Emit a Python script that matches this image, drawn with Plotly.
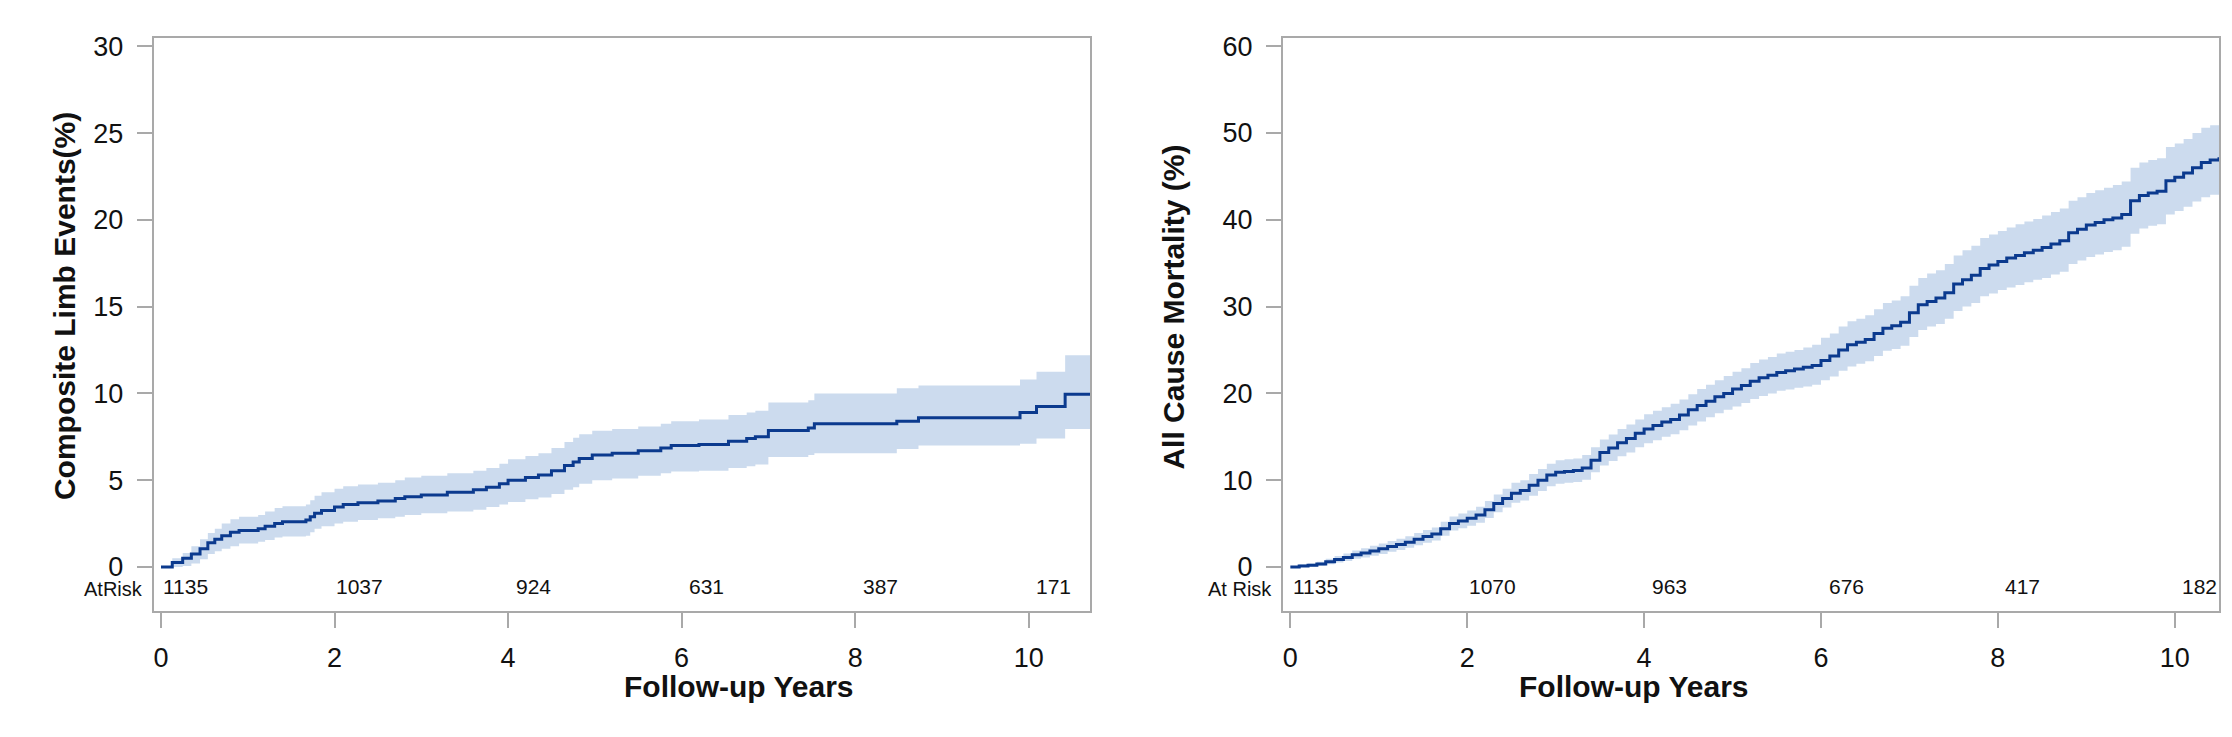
import plotly.graph_objects as go

W, H = 2232, 737

# ---------------- Data: Composite limb events (left panel) ----------------
limb_t = [0.0, 0.13, 0.25, 0.35, 0.45, 0.54, 0.62, 0.70, 0.80, 0.90, 1.12, 1.20, 1.31, 1.40,
          1.67, 1.72, 1.77, 1.85, 2.0, 2.1, 2.27, 2.5, 2.7, 2.81, 3.0, 3.3, 3.6, 3.75, 3.9,
          4.0, 4.2, 4.35, 4.5, 4.65, 4.75, 4.82, 4.97, 5.2, 5.5, 5.76, 5.88, 6.2, 6.54, 6.75,
          6.85, 7.0, 7.46, 7.53, 8.48, 8.73, 9.9, 10.09, 10.42, 10.71]
limb_est = [0.0, 0.25, 0.5, 0.75, 1.05, 1.4, 1.6, 1.8, 2.0, 2.1, 2.2, 2.35, 2.5, 2.6,
            2.7, 2.9, 3.1, 3.25, 3.45, 3.6, 3.7, 3.8, 3.95, 4.05, 4.15, 4.3, 4.45, 4.6, 4.8,
            5.0, 5.15, 5.3, 5.55, 5.85, 6.05, 6.25, 6.45, 6.55, 6.7, 6.85, 7.0, 7.05, 7.25, 7.4,
            7.5, 7.86, 8.0, 8.25, 8.4, 8.6, 8.9, 9.25, 9.95, 9.95]
limb_lo = [0.0, 0.0, 0.05, 0.2, 0.45, 0.75, 0.9, 1.05, 1.2, 1.35, 1.45, 1.55, 1.7, 1.75,
           1.8, 2.0, 2.2, 2.35, 2.5, 2.6, 2.7, 2.8, 2.9, 3.0, 3.1, 3.2, 3.3, 3.45, 3.6,
           3.75, 3.9, 4.0, 4.2, 4.45, 4.6, 4.8, 5.0, 5.1, 5.25, 5.4, 5.5, 5.55, 5.7, 5.8,
           5.9, 6.33, 6.45, 6.55, 6.8, 7.0, 7.1, 7.4, 7.95, 7.95]
limb_hi = [0.0, 0.5, 0.8, 1.2, 1.6, 1.95, 2.2, 2.5, 2.75, 2.9, 3.0, 3.2, 3.4, 3.5,
           3.6, 3.85, 4.1, 4.3, 4.5, 4.65, 4.75, 4.85, 5.0, 5.15, 5.25, 5.4, 5.55, 5.7, 5.95,
           6.2, 6.4, 6.55, 6.85, 7.2, 7.45, 7.65, 7.85, 7.95, 8.1, 8.25, 8.4, 8.5, 8.75, 8.9,
           9.0, 9.47, 9.6, 10.0, 10.3, 10.45, 10.8, 11.25, 12.2, 12.2]
limb_risk_t = [0, 2, 4, 6, 8, 10]
limb_risk_n = ["1135", "1037", "924", "631", "387", "171"]

# ---------------- Data: All cause mortality (right panel) ----------------
mort_t = [round(0.1 * i, 1) for i in range(106)]
mort_est = [0.0, 0.1, 0.2, 0.35, 0.6, 0.85, 1.1, 1.4, 1.6, 1.85,
            2.1, 2.35, 2.6, 2.85, 3.2, 3.5, 3.8, 4.4, 5.0, 5.3,
            5.6, 6.0, 6.6, 7.3, 7.9, 8.5, 8.8, 9.4, 10.0, 10.6,
            10.9, 11.0, 11.1, 11.4, 12.3, 13.2, 13.7, 14.3, 14.8, 15.4,
            15.9, 16.3, 16.7, 17.0, 17.5, 18.1, 18.6, 19.1, 19.6, 20.0,
            20.5, 20.9, 21.4, 21.8, 22.1, 22.4, 22.6, 22.8, 23.0, 23.2,
            23.8, 24.3, 25.0, 25.6, 25.9, 26.2, 26.9, 27.5, 27.8, 28.2,
            29.3, 30.2, 30.6, 31.0, 31.6, 32.6, 33.1, 33.6, 34.4, 34.8,
            35.2, 35.6, 35.9, 36.2, 36.5, 36.8, 37.2, 37.6, 38.5, 38.9,
            39.4, 39.7, 40.0, 40.2, 40.6, 42.2, 42.8, 43.1, 43.3, 44.5,
            44.9, 45.4, 46.0, 46.6, 46.9, 47.2]
mort_hi = [0.0, 0.3, 0.4, 0.6, 0.95, 1.25, 1.55, 1.9, 2.15, 2.45,
           2.7, 3.0, 3.25, 3.55, 3.9, 4.25, 4.55, 5.2, 5.8, 6.15,
           6.5, 6.95, 7.6, 8.35, 9.0, 9.7, 10.0, 10.7, 11.3, 11.9,
           12.3, 12.4, 12.5, 12.9, 13.8, 14.7, 15.25, 15.9, 16.4, 17.0,
           17.6, 18.0, 18.4, 18.8, 19.3, 19.9, 20.5, 21.0, 21.5, 22.0,
           22.5, 22.9, 23.5, 23.9, 24.2, 24.6, 24.8, 25.0, 25.3, 25.6,
           26.4, 26.9, 27.7, 28.3, 28.6, 29.0, 29.7, 30.4, 30.7, 31.2,
           32.4, 33.3, 33.8, 34.2, 34.9, 35.9, 36.5, 37.0, 37.9, 38.3,
           38.7, 39.1, 39.5, 39.8, 40.1, 40.5, 40.9, 41.3, 42.2, 42.6,
           43.1, 43.4, 43.7, 44.0, 44.4, 46.0, 46.6, 46.9, 47.1, 48.4,
           48.8, 49.3, 50.0, 50.6, 50.9, 51.2]
mort_lo = [0.0, 0.0, 0.05, 0.15, 0.3, 0.5, 0.7, 0.95, 1.1, 1.3,
           1.5, 1.75, 1.95, 2.2, 2.5, 2.8, 3.05, 3.6, 4.2, 4.45,
           4.75, 5.1, 5.65, 6.3, 6.85, 7.4, 7.65, 8.2, 8.75, 9.3,
           9.6, 9.7, 9.8, 10.05, 10.9, 11.7, 12.2, 12.75, 13.2, 13.8,
           14.25, 14.6, 15.0, 15.3, 15.75, 16.3, 16.75, 17.25, 17.7, 18.1,
           18.5, 18.9, 19.35, 19.7, 20.0, 20.3, 20.45, 20.65, 20.8, 21.0,
           21.5, 21.95, 22.6, 23.1, 23.4, 23.7, 24.3, 24.9, 25.1, 25.5,
           26.5, 27.3, 27.7, 28.0, 28.6, 29.5, 30.0, 30.4, 31.2, 31.5,
           31.9, 32.2, 32.5, 32.8, 33.1, 33.3, 33.7, 34.0, 34.9, 35.3,
           35.7, 36.0, 36.3, 36.5, 36.9, 38.4, 39.0, 39.3, 39.5, 40.6,
           41.0, 41.5, 42.1, 42.6, 42.9, 43.2]
mort_risk_t = [0, 2, 4, 6, 8, 10]
mort_risk_n = ["1135", "1070", "963", "676", "417", "182"]

x_ticks = [0, 2, 4, 6, 8, 10]
limb_yticks = [0, 5, 10, 15, 20, 25, 30]
mort_yticks = [0, 10, 20, 30, 40, 50, 60]

# ---------------- Style ----------------
LINE = "#0b3a8e"
BAND = "#ccdbee"
FRAME = "#a9a9a9"
TXT = "#111111"
FONT = "Liberation Sans, Arial, sans-serif"


def px(xp):
    return xp / W


def py(yp):
    return 1 - yp / H


fig = go.Figure()


def add_panel(t, est, lo, hi, xa, ya):
    fig.add_trace(go.Scatter(x=t, y=lo, mode="lines", line=dict(width=0, shape="hv"),
                             hoverinfo="skip", showlegend=False, xaxis=xa, yaxis=ya))
    fig.add_trace(go.Scatter(x=t, y=hi, mode="lines", line=dict(width=0, shape="hv"),
                             fill="tonexty", fillcolor=BAND, hoverinfo="skip",
                             showlegend=False, xaxis=xa, yaxis=ya))
    fig.add_trace(go.Scatter(x=t, y=est, mode="lines", line=dict(color=LINE, width=3, shape="hv"),
                             showlegend=False, xaxis=xa, yaxis=ya))


add_panel(limb_t, limb_est, limb_lo, limb_hi, "x", "y")
add_panel(mort_t, mort_est, mort_lo, mort_hi, "x2", "y2")

axis_common = dict(showline=True, linecolor=FRAME, linewidth=2, mirror=True,
                   ticks="outside", ticklen=15, tickwidth=2, tickcolor=FRAME,
                   showgrid=False, zeroline=False,
                   tickfont=dict(family=FONT, size=27, color=TXT))

ydom = [py(602.3), py(24)]

fig.update_layout(
    width=W, height=H, margin=dict(l=0, r=0, t=0, b=0),
    paper_bgcolor="white", plot_bgcolor="white", showlegend=False,
    xaxis=dict(domain=[px(145.7), px(1082.3)], range=[-0.084, 10.71], anchor="y",
               tickvals=x_ticks, ticklabelstandoff=6, **axis_common),
    yaxis=dict(domain=ydom, range=[-2.56, 30.49], anchor="x",
               tickvals=limb_yticks, ticklabelstandoff=8, **axis_common),
    xaxis2=dict(domain=[px(1275), px(2211)], range=[-0.083, 10.50], anchor="y2",
                tickvals=x_ticks, ticklabelstandoff=6, **axis_common),
    yaxis2=dict(domain=ydom, range=[-5.12, 60.97], anchor="x2",
                tickvals=mort_yticks, ticklabelstandoff=8, **axis_common),
)

RISK_Y = 591  # pixel row of the at-risk numbers
ann = []
# at-risk numbers
for t, n in zip(limb_risk_t, limb_risk_n):
    ann.append(dict(x=t, y=py(RISK_Y), xref="x", yref="paper", text=n, showarrow=False,
                    xshift=25, font=dict(family=FONT, size=21, color=TXT)))
for t, n in zip(mort_risk_t, mort_risk_n):
    ann.append(dict(x=t, y=py(RISK_Y), xref="x2", yref="paper", text=n, showarrow=False,
                    xshift=25, font=dict(family=FONT, size=21, color=TXT)))
# at-risk row labels
ann.append(dict(x=px(137), y=py(593), xref="paper", yref="paper", text="AtRisk",
                xanchor="right", showarrow=False, font=dict(family=FONT, size=20, color=TXT)))
ann.append(dict(x=px(1266), y=py(593), xref="paper", yref="paper", text="At Risk",
                xanchor="right", showarrow=False, font=dict(family=FONT, size=20, color=TXT)))
# axis titles
ann.append(dict(x=px(614), y=py(697), xref="paper", yref="paper", text="<b>Follow-up Years</b>",
                showarrow=False, font=dict(family=FONT, size=30, color=TXT)))
ann.append(dict(x=px(1743), y=py(697), xref="paper", yref="paper", text="<b>Follow-up Years</b>",
                showarrow=False, font=dict(family=FONT, size=30, color=TXT)))
ann.append(dict(x=px(38), y=py(295), xref="paper", yref="paper", text="<b>Composite Limb Events(%)</b>",
                textangle=-90, showarrow=False, font=dict(family=FONT, size=30, color=TXT)))
ann.append(dict(x=px(1166), y=py(296), xref="paper", yref="paper", text="<b>All Cause Mortality (%)</b>",
                textangle=-90, showarrow=False, font=dict(family=FONT, size=30, color=TXT)))

fig.update_layout(annotations=ann)
fig.write_html("out.html")
